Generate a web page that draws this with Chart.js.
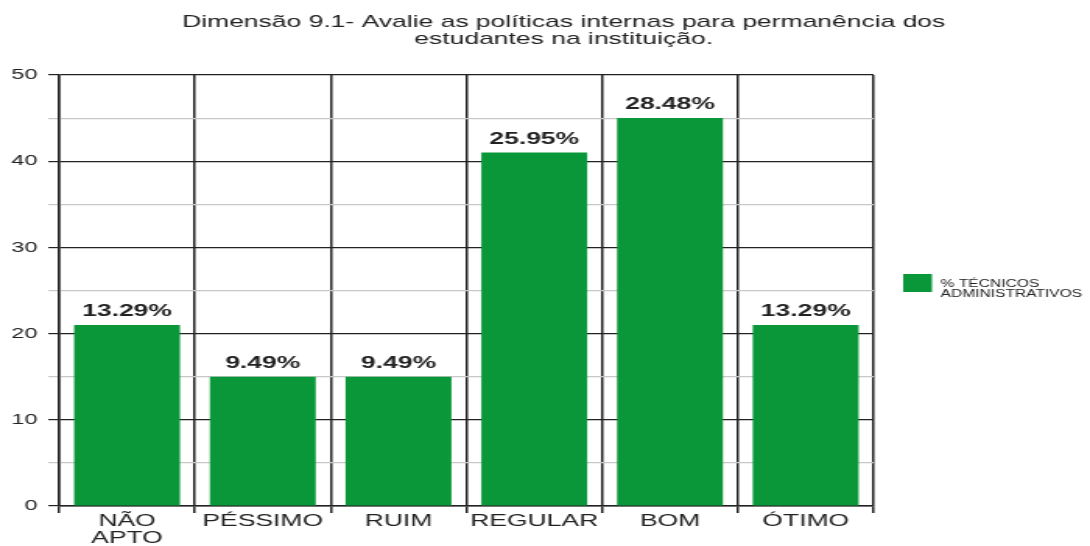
<!DOCTYPE html>
<html>
<head>
<meta charset="utf-8">
<script src="https://cdn.jsdelivr.net/npm/chart.js@4"></script>
<style>
  body { margin: 0; background: #fff; }
</style>
</head>
<body>
<!-- the reference is stretched sideways, so the canvas is too -->
<canvas id="chart" width="700" height="546" style="display:block;width:1090px;height:546px"></canvas>
<script>
/* =====================================
   DATA
======================================== */
const titleLines = ["Dimensão 9.1- Avalie as políticas internas para permanência dos", "estudantes na instituição."];
const categories = [["NÃO", "APTO"], "PÉSSIMO", "RUIM", "REGULAR", "BOM", "ÓTIMO"];
const counts = [21, 15, 15, 41, 45, 21];
const pctLabels = ["13.29%", "9.49%", "9.49%", "25.95%", "28.48%", "13.29%"];
const seriesName = ["% TÉCNICOS", "ADMINISTRATIVOS"];
const yTicks = [0, 10, 20, 30, 40, 50];

const green = "#0a9739";
const ink = "#222";
const font = "'Liberation Sans', Arial, sans-serif";

/* =====================================
   PLUGINS
======================================== */

// Title, drawn by hand so it can sit a little right of centre
const titlePlugin = {
  id: "titleText",
  afterDraw(chart) {
    const ctx = chart.ctx;
    ctx.save();
    ctx.fillStyle = ink;
    ctx.font = "17px " + font;
    ctx.textAlign = "center";
    ctx.textBaseline = "alphabetic";
    titleLines.forEach((line, i) => ctx.fillText(line, 362, 27 + i * 17));
    ctx.restore();
  }
};

// Percent labels above each bar
const valueLabels = {
  id: "valueLabels",
  afterDatasetsDraw(chart) {
    const ctx = chart.ctx;
    const meta = chart.getDatasetMeta(0);
    ctx.save();
    ctx.fillStyle = ink;
    ctx.font = "bold 17px " + font;
    ctx.textAlign = "center";
    ctx.textBaseline = "alphabetic";
    meta.data.forEach((bar, i) => ctx.fillText(pctLabels[i], bar.x, bar.y - 9));
    ctx.restore();
  }
};

// Legend on the right, two-line label
const sideLegend = {
  id: "sideLegend",
  afterDraw(chart) {
    const ctx = chart.ctx;
    const area = chart.chartArea;
    const x = area.right + 19;
    ctx.save();
    ctx.fillStyle = chart.data.datasets[0].backgroundColor;
    ctx.fillRect(x, 274, 18.5, 18);
    ctx.fillStyle = ink;
    ctx.font = "10px " + font;
    ctx.textAlign = "left";
    seriesName.forEach((line, i) => ctx.fillText(line, x + 24, 287 + i * 10));
    ctx.restore();
  }
};

/* =====================================
   CHART
======================================== */
const gridColor = c => (c.tick && c.tick.value % 10 === 0 ? ink : "#c8c8c8");

new Chart(document.getElementById("chart"), {
  type: "bar",
  data: {
    labels: categories,
    datasets: [{
      label: seriesName.join(" "),
      data: counts,
      backgroundColor: green,
      borderWidth: 0,
      categoryPercentage: 1,
      barPercentage: 0.78
    }]
  },
  options: {
    responsive: false,
    animation: false,
    devicePixelRatio: 1,
    layout: { padding: { top: 75, right: 139, left: 0, bottom: 0 } },
    plugins: {
      legend: { display: false },
      title: { display: false },
      tooltip: { enabled: false }
    },
    scales: {
      x: {
        afterFit: s => { s.height = 40; },
        grid: { offset: true, color: ink, lineWidth: 1.5, tickLength: 7, tickColor: ink },
        border: { color: ink, width: 1.5 },
        ticks: {
          color: ink,
          padding: 0,
          maxRotation: 0,
          autoSkip: false,
          font: { family: font, size: 17, lineHeight: 1 }
        }
      },
      y: {
        min: 0,
        max: 50,
        afterFit: s => { s.width = 38; },
        afterBuildTicks: s => {
          // major steps plus the light half-steps in between
          const all = [];
          yTicks.forEach((v, i) => {
            all.push({ value: v });
            if (i < yTicks.length - 1) all.push({ value: (v + yTicks[i + 1]) / 2 });
          });
          s.ticks = all;
        },
        grid: { color: gridColor, tickColor: gridColor, lineWidth: 1.2, tickLength: 7 },
        border: { color: ink, width: 1.5 },
        ticks: {
          color: ink,
          padding: 7,
          font: { family: font, size: 15 },
          callback: v => (yTicks.includes(v) ? v : "")
        }
      }
    }
  },
  plugins: [titlePlugin, valueLabels, sideLegend]
});
</script>
</body>
</html>
